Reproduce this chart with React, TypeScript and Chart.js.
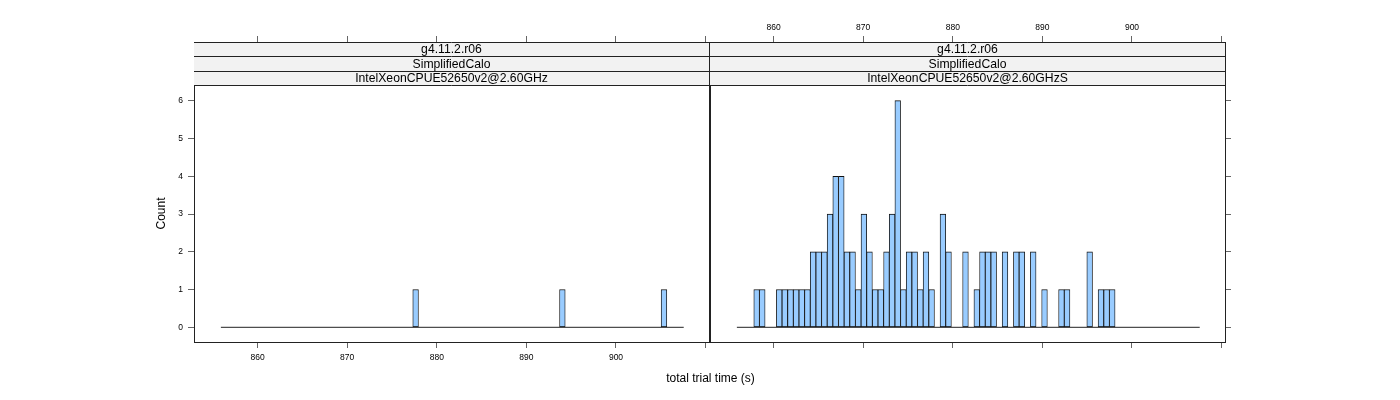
import React, { useEffect, useRef } from 'react';
import { Chart, registerables } from 'chart.js';

Chart.register(...registerables);

// ---- data ----
const binStart = 855.9;
const binWidth = 0.63;
const leftCounts = [
  0, 0, 0, 0, 0, 0, 0, 0, 0, 0,
  0, 0, 0, 0, 0, 0, 0, 0, 0, 0,
  0, 0, 0, 0, 0, 0, 0, 0, 0, 0,
  0, 0, 0, 0, 1, 0, 0, 0, 0, 0,
  0, 0, 0, 0, 0, 0, 0, 0, 0, 0,
  0, 0, 0, 0, 0, 0, 0, 0, 0, 0,
  1, 0, 0, 0, 0, 0, 0, 0, 0, 0,
  0, 0, 0, 0, 0, 0, 0, 0, 1, 0,
  0, 0,
];
const rightCounts = [
  0, 0, 0, 1, 1, 0, 0, 1, 1, 1,
  1, 1, 1, 2, 2, 2, 3, 4, 4, 2,
  2, 1, 3, 2, 1, 1, 2, 3, 6, 1,
  2, 2, 1, 2, 1, 0, 3, 2, 0, 0,
  2, 0, 1, 2, 2, 2, 0, 2, 0, 2,
  2, 0, 2, 0, 1, 0, 0, 1, 1, 0,
  0, 0, 2, 0, 1, 1, 1, 0, 0, 0,
  0, 0, 0, 0, 0, 0, 0, 0, 0, 0,
  0, 0,
];
const xTickValues = [860, 870, 880, 890, 900, 910];
const xTickLabels = ['860', '870', '880', '890', '900', ''];
const yTickValues = [0, 1, 2, 3, 4, 5, 6];
const yTickLabels = ['0', '1', '2', '3', '4', '5', '6'];
const stripVersion = 'g4.11.2.r06';
const stripBenchmark = 'SimplifiedCalo';
const panelCpus = ['IntelXeonCPUE52650v2@2.60GHz', 'IntelXeonCPUE52650v2@2.60GHzS'];
const xTitle = 'total trial time (s)';
const yTitle = 'Count';

// ---- styling / layout ----
const FONT = "'Liberation Sans', Arial, Helvetica, sans-serif";
const X_MIN = 852.9;
const X_MAX = 910.38;
const Y_MIN = -0.389;
const Y_MAX = 7.554;
const W = 1400;
const H = 400;
const BORDER = '#222';
const TICK = '#666';
const STRIP_BG = '#F2F2F2';
const BAR_FILL = '#99CCFF';
const BAR_EDGE = '#111';
const STRIP_H = 14.5;

const stripPlugin = (rows: string[]) => ({
  id: 'strips',
  afterDraw(chart: any) {
    const { ctx, chartArea: a } = chart;
    ctx.save();
    ctx.fillStyle = STRIP_BG;
    ctx.fillRect(a.left, a.top, a.right - a.left, STRIP_H * rows.length);
    ctx.strokeStyle = BORDER;
    ctx.lineWidth = 1;
    ctx.beginPath();
    for (let i = 0; i <= rows.length; i++) {
      const y = Math.floor(a.top + i * STRIP_H) + 0.5;
      ctx.moveTo(a.left, y);
      ctx.lineTo(a.right, y);
    }
    ctx.stroke();
    ctx.fillStyle = '#000';
    ctx.font = `12.2px ${FONT}`;
    ctx.textAlign = 'center';
    ctx.textBaseline = 'middle';
    rows.forEach((t, i) => {
      ctx.fillText(t, (a.left + a.right) / 2, a.top + i * STRIP_H + STRIP_H / 2 + 0.5);
    });
    ctx.restore();
  },
});

const titlePlugin = {
  id: 'titles',
  afterDraw(chart: any) {
    const { ctx } = chart;
    ctx.save();
    ctx.fillStyle = '#000';
    ctx.font = `12px ${FONT}`;
    ctx.textAlign = 'center';
    ctx.textBaseline = 'middle';
    ctx.fillText(xTitle, 710.5, 378.5);
    ctx.translate(162, 213.5);
    ctx.rotate(-Math.PI / 2);
    ctx.fillText(yTitle, 0, 0);
    ctx.restore();
  },
};

function makeConfig(counts: number[], cpu: string, side: 'left' | 'right') {
  const isLeft = side === 'left';
  const leftW = isLeft ? 194 : 710;
  const rightW = isLeft ? W - 709 : W - 1225;
  const data = counts.map((c, i) => ({ x: binStart + (i + 0.5) * binWidth, y: c }));
  const baseline = [
    { x: binStart, y: 0 },
    { x: binStart + counts.length * binWidth, y: 0 },
  ];
  const tickFont = { family: FONT, size: 8.5 };
  const xCommon = (pos: 'top' | 'bottom', labels: boolean, h: number) => ({
    type: 'linear',
    position: pos,
    min: X_MIN,
    max: X_MAX,
    offset: false,
    afterBuildTicks: (s: any) => {
      s.ticks = xTickValues.map((v) => ({ value: v }));
    },
    afterFit: (s: any) => {
      s.height = h;
    },
    ticks: {
      autoSkip: false,
      maxRotation: 0,
      padding: pos === 'bottom' ? 5 : 3,
      color: '#000',
      font: tickFont,
      callback: (v: number) => {
        if (!labels) return '';
        const i = xTickValues.indexOf(v);
        return i >= 0 ? xTickLabels[i] : '';
      },
    },
    grid: { offset: false, drawOnChartArea: false, drawTicks: true, tickLength: 6, color: TICK, lineWidth: 1 },
    border: { display: true, color: BORDER, width: 1 },
  });
  const yCommon = (pos: 'left' | 'right', w: number, labels: boolean, ticks: boolean) => ({
    type: 'linear',
    position: pos,
    min: Y_MIN,
    max: Y_MAX,
    afterBuildTicks: (s: any) => {
      s.ticks = yTickValues.map((v) => ({ value: v }));
    },
    afterFit: (s: any) => {
      s.width = w;
    },
    ticks: {
      padding: 5,
      color: '#000',
      font: tickFont,
      callback: (v: number) => {
        if (!labels) return '';
        const i = yTickValues.indexOf(v);
        return i >= 0 ? yTickLabels[i] : '';
      },
    },
    grid: { drawOnChartArea: false, drawTicks: ticks, tickLength: 6, color: TICK, lineWidth: 1 },
    border: { display: true, color: BORDER, width: 1 },
  });

  return {
    type: 'bar',
    data: {
      datasets: [
        {
          type: 'line',
          data: baseline,
          xAxisID: 'x',
          yAxisID: 'y',
          borderColor: '#222',
          borderWidth: 1,
          pointRadius: 0,
          fill: false,
          order: 0,
        },
        {
          type: 'bar',
          data,
          xAxisID: 'x',
          yAxisID: 'y',
          backgroundColor: BAR_FILL,
          borderColor: BAR_EDGE,
          borderWidth: { top: 1, bottom: 1, left: 0.85, right: 0.85 },
          borderSkipped: false,
          barPercentage: 1,
          categoryPercentage: 1,
          order: 1,
        },
      ],
    },
    options: {
      responsive: false,
      animation: false,
      devicePixelRatio: 1,
      layout: { padding: 0 },
      plugins: { legend: { display: false }, tooltip: { enabled: false } },
      scales: {
        x: xCommon('bottom', isLeft, 58),
        xTop: xCommon('top', !isLeft, 42),
        y: yCommon('left', leftW, isLeft, isLeft),
        yRight: yCommon('right', rightW, false, !isLeft),
      },
    },
    plugins: [stripPlugin([stripVersion, stripBenchmark, cpu]), ...(isLeft ? [titlePlugin] : [])],
  };
}

export default function App() {
  const leftRef = useRef<HTMLCanvasElement | null>(null);
  const rightRef = useRef<HTMLCanvasElement | null>(null);

  useEffect(() => {
    document.body.style.margin = '0';
    Chart.defaults.font.family = FONT;
    const c1 = new Chart(leftRef.current as HTMLCanvasElement, makeConfig(leftCounts, panelCpus[0], 'left') as any);
    const c2 = new Chart(rightRef.current as HTMLCanvasElement, makeConfig(rightCounts, panelCpus[1], 'right') as any);
    return () => {
      c1.destroy();
      c2.destroy();
    };
  }, []);

  const cs: React.CSSProperties = { position: 'absolute', left: 0, top: 0, width: W, height: H };
  return (
    <div style={{ position: 'fixed', left: 0, top: 0, width: W, height: H, background: '#fff' }}>
      <canvas ref={leftRef} width={W} height={H} style={cs} />
      <canvas ref={rightRef} width={W} height={H} style={cs} />
    </div>
  );
}
